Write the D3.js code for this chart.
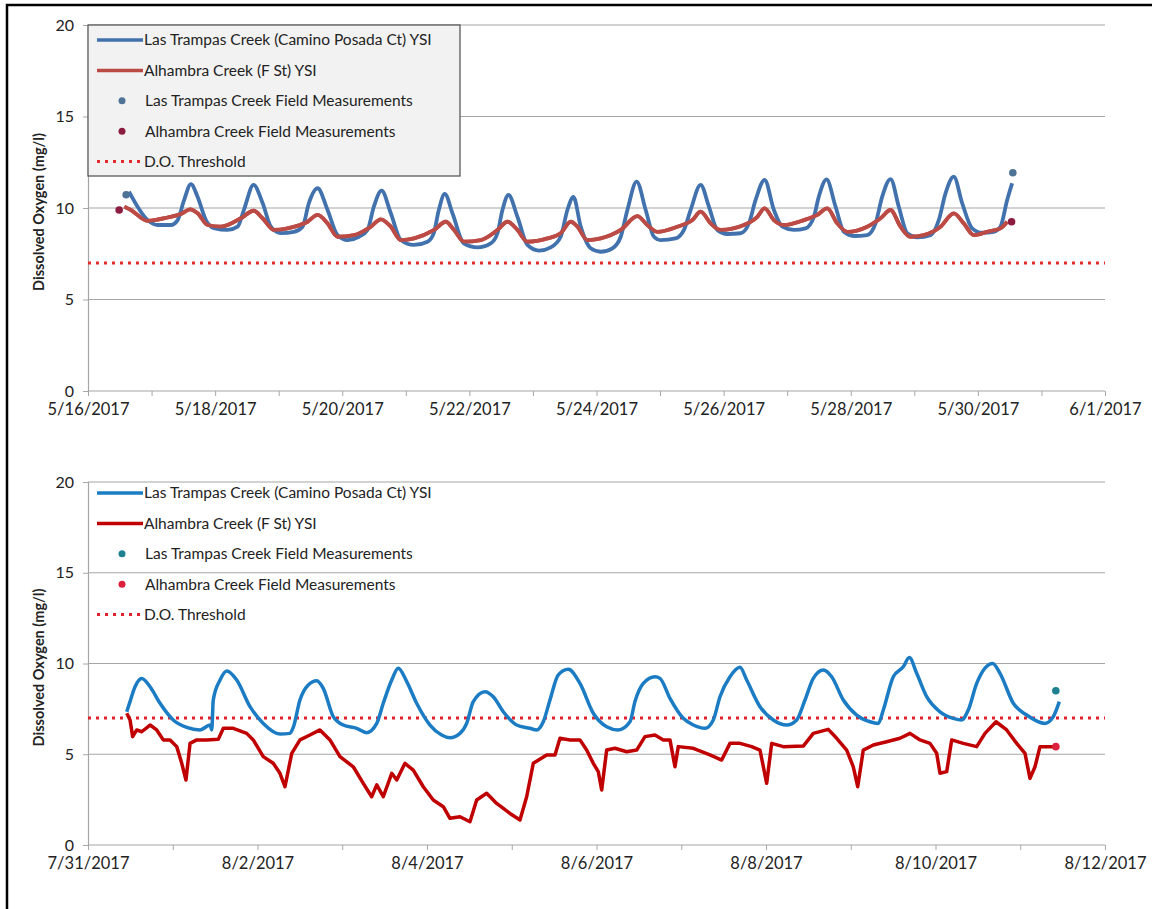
<!DOCTYPE html>
<html><head><meta charset="utf-8">
<script src="https://cdn.jsdelivr.net/npm/d3@7"></script>
<style>
body{margin:0;background:#fff;}
svg{display:block;}
text{font-family:Lato,"Open Sans",sans-serif;fill:#222;}
</style>
</head><body>
<svg id="c" width="1152" height="909"></svg>
<script>
// ---------------- DATA ----------------
const yTicks = [0, 5, 10, 15, 20];
const threshold = 7;
const legendLabels = [
  "Las Trampas Creek (Camino Posada Ct) YSI",
  "Alhambra Creek (F St) YSI",
  "Las Trampas Creek Field Measurements",
  "Alhambra Creek Field Measurements",
  "D.O. Threshold"
];

// Panel 1: May 2017, day offsets from 5/16/2017 00:00
const mayStart = "2017-05-16", mayEnd = "2017-06-01";
const mayLTDay = [0.645,0.939,1.096,1.305,1.410,1.509,1.619,1.725,1.855,1.981,2.196,2.354,2.453,2.605,2.747,2.877,3.035,3.239,3.376,3.475,3.612,3.769,3.926,4.083,4.261,4.398,4.497,4.618,4.764,4.921,5.126,5.341,5.440,5.519,5.613,5.734,5.912,6.127,6.336,6.442,6.520,6.615,6.756,6.913,7.096,7.280,7.437,7.542,7.637,7.752,7.909,8.066,8.250,8.381,8.486,8.632,8.774,8.904,9.009,9.245,9.376,9.481,9.638,9.769,9.901,10.058,10.267,10.398,10.503,10.645,10.791,10.923,11.105,11.289,11.420,11.498,11.619,11.761,11.892,12.049,12.259,12.390,12.495,12.626,12.756,12.888,13.046,13.255,13.385,13.491,13.621,13.753,13.910,14.068,14.250,14.355,14.461,14.539];
const mayLTVal = [10.9,9.34,9.07,9.07,9.34,10.4,11.31,10.6,9.34,8.9,8.8,8.98,9.9,11.26,10.27,8.98,8.63,8.7,8.98,10.27,11.08,9.89,8.52,8.25,8.43,8.8,10.07,10.95,9.71,8.25,7.98,8.16,8.63,9.89,10.77,9.71,8.07,7.85,8.07,8.62,9.89,10.71,9.52,7.98,7.67,7.85,8.43,9.89,10.6,8.98,7.8,7.61,7.8,8.43,9.89,11.44,9.89,8.43,8.25,8.34,8.8,9.89,11.26,10.07,8.8,8.58,8.62,9.16,10.44,11.53,9.89,8.98,8.8,8.89,9.52,10.62,11.56,10.07,8.7,8.47,8.52,9.16,10.62,11.58,10.07,8.62,8.4,8.52,9.34,10.8,11.71,10.26,8.89,8.65,8.7,8.98,10.44,11.35];
const mayACDay = [0.571,0.676,0.939,1.253,1.462,1.608,1.725,1.882,2.091,2.406,2.605,2.747,2.929,3.140,3.454,3.612,3.769,3.926,4.187,4.450,4.607,4.764,4.921,5.130,5.445,5.629,5.759,5.917,6.179,6.442,6.599,6.756,6.913,7.228,7.437,7.594,7.700,7.857,8.066,8.381,8.643,8.800,8.957,9.272,9.508,9.638,9.796,9.953,10.319,10.530,10.645,10.791,10.948,11.263,11.473,11.630,11.788,11.945,12.259,12.469,12.626,12.783,12.940,13.149,13.412,13.621,13.778,13.936,14.146,14.355,14.461];
const mayACVal = [10.07,9.89,9.3,9.48,9.67,9.93,9.71,9.07,8.98,9.44,9.85,9.44,8.8,8.89,9.25,9.62,9.16,8.43,8.52,8.98,9.38,8.98,8.25,8.34,8.8,9.25,8.8,8.16,8.25,8.8,9.25,8.8,8.16,8.34,8.62,9.25,8.98,8.25,8.34,8.8,9.56,9.07,8.7,8.98,9.34,9.8,9.16,8.8,9.07,9.52,9.98,9.34,9.07,9.34,9.62,9.98,9.16,8.7,8.98,9.44,9.89,8.98,8.43,8.52,8.98,9.71,9.16,8.52,8.7,8.89,9.25];
const mayLTFieldDay = [0.60, 14.55];
const mayLTFieldVal = [10.72, 11.93];
const mayACFieldDay = [0.49, 14.53];
const mayACFieldVal = [9.89, 9.25];

// Panel 2: Aug 2017, day offsets from 7/31/2017 00:00
const augStart = "2017-07-31", augEnd = "2017-08-12";
const augLTDay = [0.457,0.496,0.555,0.634,0.732,0.850,1.006,1.165,1.322,1.440,1.460,1.478,1.558,1.637,1.755,1.912,2.068,2.265,2.383,2.422,2.501,2.599,2.699,2.776,2.894,3.012,3.171,3.288,3.407,3.484,3.584,3.661,3.761,3.878,4.035,4.173,4.271,4.389,4.468,4.546,4.684,4.782,4.900,5.058,5.215,5.294,5.372,5.451,5.549,5.667,5.805,5.962,6.120,6.257,6.395,6.454,6.552,6.690,6.749,6.867,7.024,7.142,7.280,7.378,7.457,7.575,7.693,7.772,7.929,8.086,8.244,8.362,8.460,8.558,8.676,8.775,8.912,9.070,9.227,9.325,9.384,9.502,9.620,9.691,9.778,9.896,10.053,10.210,10.309,10.387,10.486,10.675,10.761,10.918,11.076,11.292,11.390,11.461];
const augLTVal = [7.34,7.9,8.72,9.18,8.72,7.81,6.89,6.48,6.34,6.61,6.34,7.99,9.09,9.59,9.09,7.62,6.7,6.12,6.15,6.48,7.99,8.82,9.05,8.63,7.07,6.61,6.43,6.19,6.7,7.81,9.09,9.74,9.0,7.81,6.61,6.06,5.91,6.15,6.7,7.9,8.45,8.17,7.34,6.61,6.43,6.34,6.79,7.99,9.37,9.68,8.9,7.26,6.52,6.34,6.79,7.9,8.9,9.27,9.18,8.08,6.98,6.61,6.43,6.89,8.17,9.27,9.79,9.09,7.62,6.89,6.61,6.89,7.99,9.18,9.64,9.27,7.99,7.16,6.79,6.7,7.44,9.27,9.82,10.33,9.46,8.17,7.34,6.98,6.89,7.44,8.9,10.0,9.46,7.81,7.16,6.7,7.07,7.9];
const augACDay = [0.457,0.496,0.527,0.575,0.634,0.732,0.811,0.888,0.968,1.047,1.106,1.156,1.204,1.283,1.401,1.537,1.597,1.714,1.873,1.950,2.068,2.186,2.265,2.324,2.404,2.501,2.619,2.737,2.855,2.973,3.130,3.248,3.347,3.407,3.484,3.584,3.643,3.740,3.838,3.956,4.074,4.192,4.271,4.389,4.507,4.586,4.704,4.822,4.979,5.097,5.176,5.254,5.412,5.510,5.569,5.687,5.805,5.884,5.962,6.021,6.061,6.120,6.218,6.356,6.474,6.572,6.690,6.788,6.867,6.926,6.965,7.142,7.339,7.477,7.575,7.693,7.831,7.929,8.008,8.067,8.204,8.440,8.558,8.735,8.834,8.952,9.030,9.082,9.148,9.266,9.424,9.581,9.699,9.817,9.935,10.014,10.053,10.132,10.191,10.328,10.486,10.584,10.714,10.840,10.958,11.056,11.115,11.174,11.233,11.390];
const augACVal = [7.26,6.89,5.97,6.34,6.24,6.61,6.34,5.79,5.79,5.42,4.5,3.58,5.6,5.79,5.79,5.82,6.43,6.43,6.15,5.79,4.87,4.5,3.95,3.21,5.05,5.79,6.06,6.34,5.79,4.87,4.31,3.4,2.66,3.31,2.66,3.95,3.58,4.5,4.13,3.21,2.48,2.11,1.47,1.56,1.28,2.48,2.85,2.29,1.74,1.38,2.66,4.5,4.96,4.96,5.88,5.79,5.79,5.23,4.5,4.04,3.03,5.23,5.33,5.14,5.23,5.97,6.06,5.79,5.79,4.31,5.42,5.33,4.96,4.68,5.6,5.6,5.42,5.23,3.4,5.6,5.42,5.45,6.15,6.37,5.88,5.23,4.31,3.21,5.23,5.51,5.69,5.88,6.15,5.79,5.6,5.05,3.95,4.04,5.79,5.6,5.42,6.15,6.79,6.34,5.6,5.05,3.67,4.31,5.42,5.42];
const augLTFieldDay = [11.42];
const augLTFieldVal = [8.5];
const augACFieldDay = [11.42];
const augACFieldVal = [5.42];

// ---------------- DRAW ----------------
const svg = d3.select("#c");
const DAY = 86400000;
const parse = d3.timeParse("%Y-%m-%d");
const fmt = d3.timeFormat("%-m/%-d/%Y");
const zip = (ds, vs, base) => ds.map((d, i) => ({t: new Date(base.getTime() + d * DAY), v: vs[i]}));

// page border (top & left)
svg.append("path").attr("d", "M7,909 V5 H1152").attr("fill", "none")
  .attr("stroke", "#000").attr("stroke-width", 2.5);

function panel(cfg) {
  const start = parse(cfg.start), end = parse(cfg.end);
  const x = d3.scaleTime().domain([start, end]).range([88, 1105]);
  const y = d3.scaleLinear().domain([0, 20]).range([cfg.y0, cfg.y1]);
  const g = svg.append("g");

  // gridlines
  g.append("g").selectAll("line").data(yTicks.filter(v => v > 0)).join("line")
    .attr("x1", 88).attr("x2", 1105).attr("y1", d => y(d)).attr("y2", d => y(d))
    .attr("stroke", "#a6a6a6").attr("stroke-width", 1.2);

  // y axis
  const ya = g.append("g").attr("transform", "translate(88,0)")
    .call(d3.axisLeft(y).tickValues(yTicks).tickSize(5).tickPadding(9));
  ya.select(".domain").attr("stroke", "#a6a6a6").attr("stroke-width", 1.2);
  ya.selectAll(".tick line").attr("stroke", "#a6a6a6");
  ya.selectAll(".tick text").attr("font-size", 16).attr("fill", "#222")
    .attr("font-family", "Lato, sans-serif");

  // x axis
  const days = d3.timeDay.range(start, d3.timeDay.offset(end, 1));
  const xa = g.append("g").attr("transform", `translate(0,${cfg.y0})`)
    .call(d3.axisBottom(x).tickValues(days).tickSize(5).tickPadding(7)
      .tickFormat((d, i) => i % 2 === 0 ? fmt(d) : ""));
  xa.select(".domain").attr("stroke", "#a6a6a6").attr("stroke-width", 1.2)
    .attr("d", `M88,0H1105`);
  xa.selectAll(".tick line").attr("stroke", "#a6a6a6");
  xa.selectAll(".tick text").attr("font-size", 16.5).attr("fill", "#222")
    .attr("font-family", "Lato, sans-serif");

  // y title
  g.append("text").attr("transform", `translate(44,${(cfg.y0 + cfg.y1) / 2 + 4}) rotate(-90)`)
    .attr("text-anchor", "middle").attr("font-weight", "bold").attr("font-size", 14.5)
    .text("Dissolved Oxygen (mg/l)");

  // threshold
  g.append("line").attr("x1", 88).attr("x2", 1105)
    .attr("y1", y(threshold)).attr("y2", y(threshold))
    .attr("stroke", cfg.thrColor).attr("stroke-width", 3).attr("stroke-dasharray", "3,5");

  const line = d3.line().x(d => x(d.t)).y(d => y(d.v));
  const ac = zip(cfg.acDay, cfg.acVal, start);
  const lt = zip(cfg.ltDay, cfg.ltVal, start);
  g.append("path").datum(ac).attr("d", line.curve(cfg.acCurve)).attr("fill", "none")
    .attr("stroke", cfg.acColor).attr("stroke-width", cfg.lw).attr("stroke-linejoin", "round");
  g.append("path").datum(lt).attr("d", line.curve(d3.curveMonotoneX)).attr("fill", "none")
    .attr("stroke", cfg.ltColor).attr("stroke-width", cfg.lw).attr("stroke-linejoin", "round");
  if (cfg.acOnTop) g.append("path").datum(ac).attr("d", line.curve(cfg.acCurve)).attr("fill", "none")
    .attr("stroke", cfg.acColor).attr("stroke-width", cfg.lw).attr("stroke-linejoin", "round");

  g.append("g").selectAll("circle").data(zip(cfg.ltFDay, cfg.ltFVal, start)).join("circle")
    .attr("cx", d => x(d.t)).attr("cy", d => y(d.v)).attr("r", 3.8).attr("fill", cfg.ltFColor);
  g.append("g").selectAll("circle").data(zip(cfg.acFDay, cfg.acFVal, start)).join("circle")
    .attr("cx", d => x(d.t)).attr("cy", d => y(d.v)).attr("r", 3.8).attr("fill", cfg.acFColor);

  // legend
  const lg = g.append("g");
  if (cfg.legendBox) {
    lg.append("rect").attr("x", 88).attr("y", cfg.y1).attr("width", 372).attr("height", 151)
      .attr("fill", "#f2f2f2").attr("stroke", "#595959").attr("stroke-width", 1.3);
  }
  const rowY = i => cfg.legTop + i * 30.4;
  legendLabels.forEach((lab, i) => {
    const yy = rowY(i);
    if (i < 2) {
      lg.append("line").attr("x1", 97).attr("x2", 143).attr("y1", yy).attr("y2", yy)
        .attr("stroke", i === 0 ? cfg.ltColor : cfg.acColor).attr("stroke-width", 3.5);
    } else if (i < 4) {
      lg.append("circle").attr("cx", 122).attr("cy", yy).attr("r", 3.5)
        .attr("fill", i === 2 ? cfg.ltFColor : cfg.acFColor);
    } else {
      lg.append("line").attr("x1", 97).attr("x2", 143).attr("y1", yy).attr("y2", yy)
        .attr("stroke", cfg.thrColor).attr("stroke-width", 3).attr("stroke-dasharray", "3,5");
    }
    lg.append("text").attr("x", i < 2 || i === 4 ? 144 : 145).attr("y", yy).attr("dy", "0.35em")
      .attr("font-size", 15.5).text(lab);
  });
}

panel({
  start: mayStart, end: mayEnd, y0: 391, y1: 25,
  ltDay: mayLTDay, ltVal: mayLTVal, acDay: mayACDay, acVal: mayACVal,
  ltFDay: mayLTFieldDay, ltFVal: mayLTFieldVal, acFDay: mayACFieldDay, acFVal: mayACFieldVal,
  ltColor: "#4272ad", acColor: "#bc4b45", ltFColor: "#4f7396", acFColor: "#8c1c40",
  thrColor: "#e42b2b", lw: 3.8, acCurve: d3.curveMonotoneX, acOnTop: true,
  legendBox: true, legTop: 40
});
panel({
  start: augStart, end: augEnd, y0: 845, y1: 482,
  ltDay: augLTDay, ltVal: augLTVal, acDay: augACDay, acVal: augACVal,
  ltFDay: augLTFieldDay, ltFVal: augLTFieldVal, acFDay: augACFieldDay, acFVal: augACFieldVal,
  ltColor: "#1b7cc4", acColor: "#c00000", ltFColor: "#1f8090", acFColor: "#dc1f3c",
  thrColor: "#e0202a", lw: 3.5, acCurve: d3.curveLinear, acOnTop: false,
  legendBox: false, legTop: 493
});
</script>
</body></html>
